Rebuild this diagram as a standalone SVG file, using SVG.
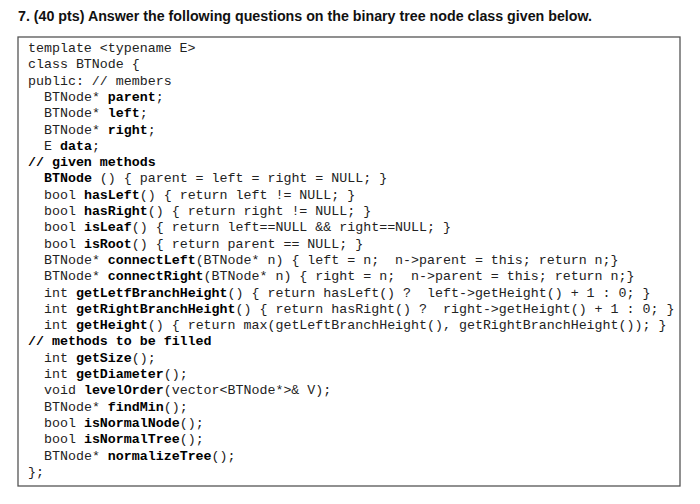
<svg xmlns="http://www.w3.org/2000/svg" width="700" height="504" viewBox="0 0 700 504">
<style>
.t{font-family:"Liberation Sans",Arial,sans-serif;font-weight:bold;font-size:14px;fill:#111}
.c{font-family:"Liberation Mono","DejaVu Sans Mono",monospace;font-size:13.3px;fill:#222}
.b{font-weight:bold;fill:#000}
</style>
<rect width="700" height="504" fill="#fff"/>
<text class="t" x="18" y="21" textLength="574" lengthAdjust="spacingAndGlyphs">7. (40 pts) Answer the following questions on the binary tree node class given below.</text>
<rect x="18" y="37" width="662" height="449" fill="none" stroke="#555" stroke-width="1.3"/>
<g id="code" class="c">
<text x="28" y="52">template &lt;typename E&gt;</text>
<text x="28" y="68.3">class BTNode {</text>
<text x="28" y="84.6">public: // members</text>
<text x="44" y="100.9">BTNode* <tspan class="b">parent</tspan>;</text>
<text x="44" y="117.2">BTNode* <tspan class="b">left</tspan>;</text>
<text x="44" y="133.5">BTNode* <tspan class="b">right</tspan>;</text>
<text x="44" y="149.8">E <tspan class="b">data</tspan>;</text>
<text x="28" y="166.1" class="b">// given methods</text>
<text x="44" y="182.4"><tspan class="b">BTNode</tspan> () { parent = left = right = NULL; }</text>
<text x="44" y="198.7">bool <tspan class="b">hasLeft</tspan>() { return left != NULL; }</text>
<text x="44" y="215">bool <tspan class="b">hasRight</tspan>() { return right != NULL; }</text>
<text x="44" y="231.3">bool <tspan class="b">isLeaf</tspan>() { return left==NULL &amp;&amp; right==NULL; }</text>
<text x="44" y="247.6">bool <tspan class="b">isRoot</tspan>() { return parent == NULL; }</text>
<text x="44" y="263.9">BTNode* <tspan class="b">connectLeft</tspan>(BTNode* n) { left = n;&#160; n-&gt;parent = this; return n;}</text>
<text x="44" y="280.2">BTNode* <tspan class="b">connectRight</tspan>(BTNode* n) { right = n;&#160; n-&gt;parent = this; return n;}</text>
<text x="44" y="296.5">int <tspan class="b">getLetfBranchHeight</tspan>() { return hasLeft() ?&#160; left-&gt;getHeight() + 1 : 0; }</text>
<text x="44" y="312.8">int <tspan class="b">getRightBranchHeight</tspan>() { return hasRight() ?&#160; right-&gt;getHeight() + 1 : 0; }</text>
<text x="44" y="329.1">int <tspan class="b">getHeight</tspan>() { return max(getLeftBranchHeight(), getRightBranchHeight()); }</text>
<text x="28" y="345.4" class="b">// methods to be filled</text>
<text x="44" y="361.7">int <tspan class="b">getSize</tspan>();</text>
<text x="44" y="378">int <tspan class="b">getDiameter</tspan>();</text>
<text x="44" y="394.3">void <tspan class="b">levelOrder</tspan>(vector&lt;BTNode*&gt;&amp; V);</text>
<text x="44" y="410.6">BTNode* <tspan class="b">findMin</tspan>();</text>
<text x="44" y="426.9">bool <tspan class="b">isNormalNode</tspan>();</text>
<text x="44" y="443.2">bool <tspan class="b">isNormalTree</tspan>();</text>
<text x="44" y="459.5">BTNode* <tspan class="b">normalizeTree</tspan>();</text>
<text x="28" y="475.8">};</text>
</g>
</svg>
